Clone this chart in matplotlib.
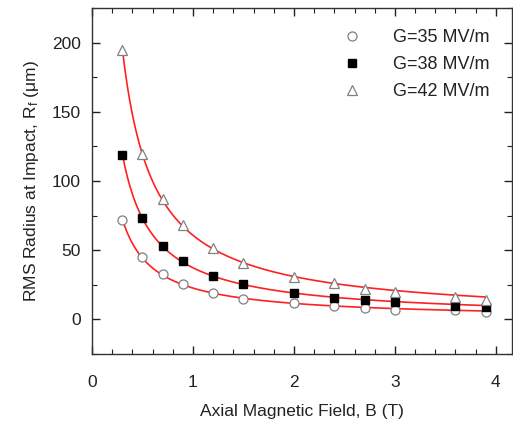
import numpy as np
import matplotlib
matplotlib.use("Agg")
import matplotlib.pyplot as plt
from matplotlib.ticker import MultipleLocator

plt.rcParams['font.family'] = ['Liberation Sans', 'DejaVu Sans']
plt.rcParams['mathtext.fontset'] = 'custom'
plt.rcParams['mathtext.rm'] = 'Liberation Sans'
plt.rcParams['mathtext.it'] = 'Liberation Sans:italic'

B = [0.3, 0.5, 0.7, 0.9, 1.2, 1.5, 2.0, 2.4, 2.7, 3.0, 3.6, 3.9]
r35 = [72, 45, 32.5, 25.5, 19, 15, 11.8, 9.6, 8.2, 7.0, 6.5, 5.0]
r38 = [119, 73.5, 53.2, 41.9, 31.6, 25.5, 19, 15.7, 13.7, 12.5, 9.6, 8.9]
r42 = [195, 119.7, 87.2, 68.4, 51.5, 41, 30.6, 26.2, 22.2, 19.7, 16.1, 14.2]
labels = ['G=35 MV/m', 'G=38 MV/m', 'G=42 MV/m']

fig = plt.figure(figsize=(5.13, 4.21), dpi=100)
ax = fig.add_axes([92/513, 1 - 354/421, (512-92)/513, (354-8)/421])

x = np.array(B)
xf = np.linspace(0.3, 3.9, 300)


def fit_power(xv, yv):
    # least squares fit of y = a * x**(-b) in linear space
    best = None
    for b in np.linspace(0.3, 2.5, 2201):
        g = xv ** (-b)
        a = np.dot(g, yv) / np.dot(g, g)
        err = np.sum((a * g - yv) ** 2)
        if best is None or err < best[0]:
            best = (err, a, b)
    return best[1], best[2]


for r in (r35, r38, r42):
    a, b = fit_power(x, np.array(r, dtype=float))
    ax.plot(xf, a * xf ** (-b), color='#ff2020', lw=1.2, zorder=2)

ax.plot(B, r35, 'o', ms=6.5, mfc='white', mec='#808080', mew=0.9, ls='none', label=labels[0], zorder=3)
ax.plot(B, r38, 's', ms=5.5, mfc='black', mec='black', ls='none', label=labels[1], zorder=3)
ax.plot(B, r42, '^', ms=7.5, mfc='white', mec='#808080', mew=0.9, ls='none', label=labels[2], zorder=3)

ax.set_xlim(0, 4.16)
ax.set_ylim(-25, 225)
ax.xaxis.set_major_locator(MultipleLocator(1))
ax.xaxis.set_minor_locator(MultipleLocator(0.2))
ax.yaxis.set_major_locator(MultipleLocator(50))
ax.yaxis.set_minor_locator(MultipleLocator(25))
ax.tick_params(which='both', direction='in', top=True, right=True, labelsize=12.5, colors='#222222')
ax.tick_params(which='major', length=6, width=1)
ax.tick_params(which='minor', length=3.5, width=0.8)
ax.tick_params(axis='x', pad=15)
ax.tick_params(axis='y', pad=8)
for s in ax.spines.values():
    s.set_linewidth(1.0)
    s.set_color('#333333')

ax.set_xlabel('Axial Magnetic Field, B (T)', fontsize=12.5, color='#222222', labelpad=10)
ax.set_ylabel(r'RMS Radius at Impact, R$_\mathrm{f}$ (μm)', fontsize=12.5, color='#222222', labelpad=8)

leg = ax.legend(loc='upper right', bbox_to_anchor=(0.985, 0.985), frameon=False, fontsize=13,
                handletextpad=1.5, labelspacing=0.55, handlelength=1.5)
for t in leg.get_texts():
    t.set_color('#222222')

fig.savefig('out.png', dpi=100)
